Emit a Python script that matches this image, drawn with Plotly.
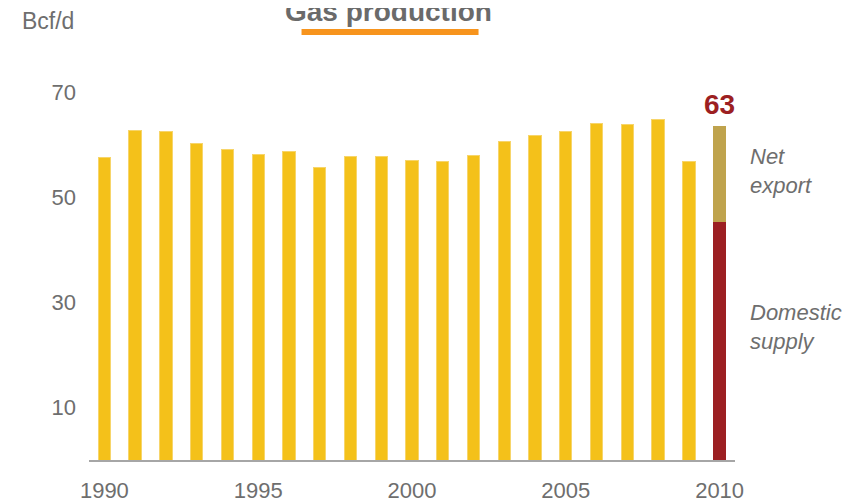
import plotly.graph_objects as go

years = list(range(1990, 2010))
production = [57.5, 62.7, 62.5, 60.2, 59.2, 58.1, 58.7, 55.6, 57.7, 57.7,
              57.0, 56.8, 58.0, 60.6, 61.7, 62.6, 64.1, 63.8, 64.9, 56.8]
last_year = [2010]
domestic_supply = [45.3]
net_export = [18.2]
total_label = "63"
x_ticks = [1990, 1995, 2000, 2005, 2010]
y_ticks = [10, 30, 50, 70]

GREY = "#6e6e6e"
FONT = "Liberation Sans, Arial, sans-serif"

fig = go.Figure()
fig.add_trace(go.Bar(x=years, y=production, width=0.4,
                     marker=dict(color="#F4C11A", line=dict(color="#F7D56A", width=1)),
                     showlegend=False, hoverinfo="x+y"))
fig.add_trace(go.Bar(x=last_year, y=domestic_supply, width=0.4,
                     marker=dict(color="#9C1F22", line=dict(width=0)),
                     showlegend=False, name="Domestic supply"))
fig.add_trace(go.Bar(x=last_year, y=net_export, width=0.4,
                     marker=dict(color="#BFA34D", line=dict(width=0)),
                     showlegend=False, name="Net export"))

total = domestic_supply[0] + net_export[0]

fig.update_layout(
    barmode="stack",
    width=848, height=495,
    margin=dict(l=81, r=121, t=58, b=43),
    plot_bgcolor="white", paper_bgcolor="white",
    font=dict(family=FONT, color=GREY, size=22),
    xaxis=dict(range=[1989.5, 2010.5], tickvals=x_ticks, ticks="",
               showgrid=False, zeroline=False, showline=True, automargin=False,
               linecolor="#a6a6a6", linewidth=2, ticklabelstandoff=10,
               tickfont=dict(size=22, color=GREY)),
    yaxis=dict(range=[0, 75], tickvals=y_ticks, ticks="", showgrid=False,
               zeroline=False, showline=False, ticklabelstandoff=12, automargin=False,
               tickfont=dict(size=22, color=GREY)),
    annotations=[
        dict(text="<b>Gas production</b>", xref="paper", yref="paper",
             x=0.464, y=1.139, xanchor="center", yanchor="middle",
             showarrow=False, font=dict(size=28, color="#6a6a6a")),
        dict(text="Bcf/d", xref="paper", yref="paper", x=-0.107, y=1.115,
             xanchor="left", yanchor="middle", showarrow=False,
             font=dict(size=23, color=GREY)),
        dict(text="<b>%s</b>" % total_label, x=last_year[0], y=total,
             xref="x", yref="y", xanchor="center", yanchor="bottom",
             yshift=4, showarrow=False, font=dict(size=28, color="#9C1F22")),
        dict(text="<i>Net<br>export</i>", xref="paper", yref="paper",
             x=1.02, y=0.733, xanchor="left", yanchor="middle", align="left",
             showarrow=False, font=dict(size=22, color=GREY)),
        dict(text="<i>Domestic<br>supply</i>", xref="paper", yref="paper",
             x=1.02, y=0.338, xanchor="left", yanchor="middle", align="left",
             showarrow=False, font=dict(size=22, color=GREY)),
    ],
    shapes=[dict(type="line", xref="paper", yref="paper",
                 x0=0.329, x1=0.603, y0=1.086, y1=1.086,
                 line=dict(color="#F7941D", width=6))],
)

fig.write_html("out.html")
